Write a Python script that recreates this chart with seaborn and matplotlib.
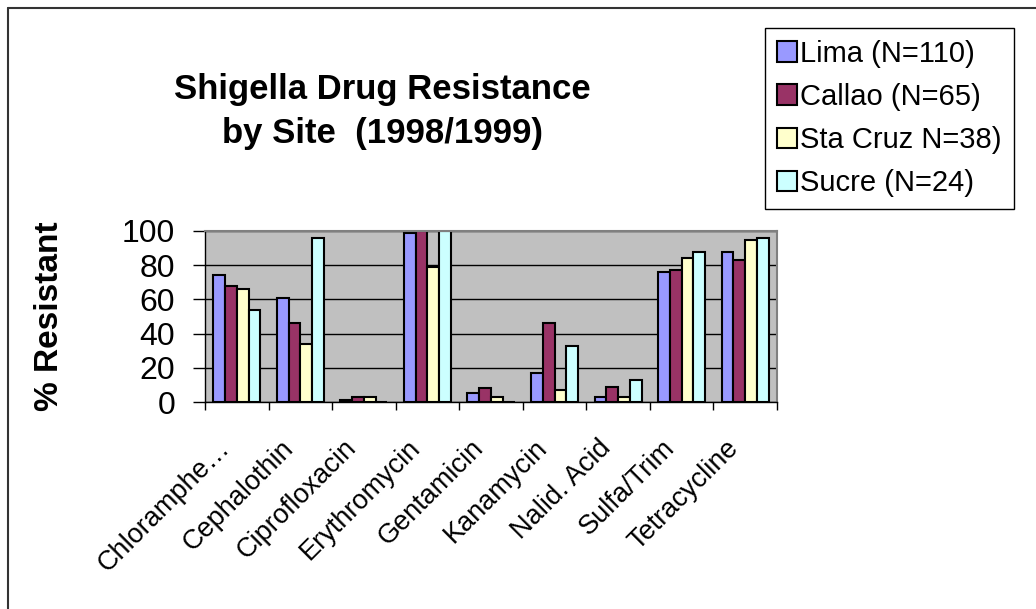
import numpy as np
import pandas as pd
import matplotlib.pyplot as plt
import matplotlib.transforms as mtransforms
from matplotlib.lines import Line2D
from matplotlib.patches import Patch
import seaborn as sns

# Veriler
drugs = ['Chloramphe\u2026', 'Cephalothin', 'Ciprofloxacin', 'Erythromycin', 'Gentamicin',
         'Kanamycin', 'Nalid. Acid', 'Sulfa/Trim', 'Tetracycline']
sites = ['Lima (N=110)', 'Callao (N=65)', 'Sta Cruz N=38)', 'Sucre (N=24)']
lima = [74, 61, 1, 99, 5, 17, 3, 76, 88]
callao = [68, 46, 3, 100, 8, 46, 9, 77, 83]
sta_cruz = [66, 34, 3, 79, 3, 7, 3, 84, 95]
sucre = [54, 96, 0, 100, 0, 33, 13, 88, 96]
colors = ['#9999FF', '#993366', '#FFFFCC', '#CCFFFF']
y_ticks = [0, 20, 40, 60, 80, 100]

df = pd.DataFrame({
    'Drug': drugs * 4,
    'Site': np.repeat(sites, len(drugs)),
    'Resistant': lima + callao + sta_cruz + sucre,
})

sns.set_theme(style="ticks")
plt.rcParams['font.family'] = ['Liberation Sans', 'DejaVu Sans']
plt.rcParams.update({'text.color': 'black', 'axes.labelcolor': 'black',
                     'xtick.color': 'black', 'ytick.color': 'black'})

W, H = 1036, 609
fig = plt.figure(figsize=(W / 100, H / 100), dpi=100)
ax = fig.add_axes([205 / W, 1 - 402 / H, 572 / W, 171 / H])

sns.barplot(data=df, x='Drug', y='Resistant', hue='Site', order=drugs, hue_order=sites,
            palette=colors, saturation=1, width=0.74, gap=0, errorbar=None,
            edgecolor='black', linewidth=1.5, ax=ax)

ax.set_facecolor('#C0C0C0')
ax.set_xlim(-0.5, len(drugs) - 0.5)
ax.set_ylim(0, 100)
ax.set_yticks(y_ticks)
ax.yaxis.grid(True, color='black', linewidth=1)
ax.set_axisbelow(True)
ax.set_xlabel('')
ax.set_ylabel('')

for s in ['top', 'right']:
    ax.spines[s].set_color('#808080')
    ax.spines[s].set_linewidth(1.5)
for s in ['left', 'bottom']:
    ax.spines[s].set_color('black')
    ax.spines[s].set_linewidth(1)

ax.tick_params(axis='y', which='major', length=8.5, width=1, color='black',
               direction='out', labelsize=23, pad=13, labelcolor='black')
ax.set_xticks(range(len(drugs)))
ax.set_xticklabels(drugs, rotation=45, ha='right', va='baseline', rotation_mode='anchor',
                   fontsize=19.5, color='black')
ax.tick_params(axis='x', which='major', length=0, pad=34)
ax.set_xticks(np.arange(-0.5, len(drugs), 1), minor=True)
ax.tick_params(axis='x', which='minor', length=5.5, width=1, color='black', direction='out')
shift = mtransforms.ScaledTranslation(-6 / 100, 0, fig.dpi_scale_trans)
for lbl in ax.get_xticklabels():
    lbl.set_transform(lbl.get_transform() + shift)

# Başlık ve eksen etiketi
fig.text(382 / W, 1 - 99 / H, 'Shigella Drug Resistance', ha='center', va='baseline',
         fontsize=25, fontweight='bold')
fig.text(382 / W, 1 - 143 / H, 'by Site  (1998/1999)', ha='center', va='baseline',
         fontsize=25, fontweight='bold')
fig.text(50 / W, 1 - 316 / H, '% Resistant', rotation=90, ha='center', va='center',
         fontsize=24, fontweight='bold')

# Lejant
handles = [Patch(facecolor=c, edgecolor='black', linewidth=1.5) for c in colors]
ax.legend(handles, sites, loc='upper left', mode='expand',
          bbox_to_anchor=(765 / W, 1 - 198 / H, 249 / W, 170 / H),
          bbox_transform=fig.transFigure, fontsize=21, frameon=True, fancybox=False,
          edgecolor='black', framealpha=1, borderpad=0.4, borderaxespad=0,
          handlelength=0.7, handleheight=0.7, handletextpad=0.1, labelspacing=0.52)
ax.get_legend().get_frame().set_linewidth(1)

# Dış çerçeve (sol ve üst)
fig.add_artist(Line2D([8 / W, 8 / W], [0, 1 - 8 / H], transform=fig.transFigure,
                      color='#333333', linewidth=1.5))
fig.add_artist(Line2D([8 / W, 1], [1 - 8 / H, 1 - 8 / H], transform=fig.transFigure,
                      color='#333333', linewidth=1.5))

fig.savefig('out.png', dpi=100)
